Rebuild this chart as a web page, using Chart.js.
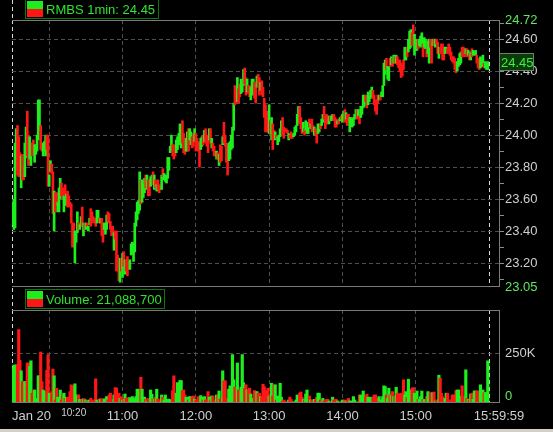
<!DOCTYPE html>
<html>
<head>
<meta charset="utf-8">
<script src="https://cdn.jsdelivr.net/npm/chart.js@4.4.0/dist/chart.umd.min.js"></script>
<style>
  html, body { margin: 0; padding: 0; background: #000; width: 553px; height: 432px; overflow: hidden; }
  #price { position: absolute; left: 0; top: 0; }
  #volume { position: absolute; left: 0; top: 288px; }
  #frame { position: absolute; left: 0; top: 429px; width: 553px; height: 3px; background: #d4d0c8; }
</style>
</head>
<body>
<canvas id="price" width="553" height="300"></canvas>
<canvas id="volume" width="553" height="141"></canvas>
<div id="frame"></div>
<script>
// RMBS 1-minute bars, Jan 20, 9:30 -> 16:00 (one entry per minute)
const lows = [
  23.44,23.41,23.42,23.78,23.75,23.74,23.76,23.67,23.72,23.72,23.74,23.86,23.87,23.81,23.85,23.81,23.87,23.88,23.83,23.88,23.90,23.97,24.03,23.91,23.90,23.87,23.90,23.87,23.91,23.68,
  23.68,23.77,23.76,23.51,23.40,23.52,23.56,23.52,23.52,23.60,23.62,23.60,23.52,23.62,23.56,23.55,23.55,23.56,23.45,23.30,
  23.30,23.20,23.33,23.39,23.41,23.41,23.43,23.43,23.37,23.41,23.41,23.43,23.40,23.44,23.43,23.45,23.46,23.45,23.43,23.45,
  23.47,23.45,23.45,23.37,23.33,23.41,23.38,23.41,23.46,23.45,23.41,23.37,23.39,23.28,23.35,23.15,23.15,23.09,23.08,23.15,
  23.11,23.18,23.13,23.15,23.12,23.16,23.16,23.25,23.26,23.21,23.27,23.43,23.47,23.51,23.53,23.57,23.58,23.61,23.64,23.67,
  23.66,23.62,23.62,23.68,23.71,23.69,23.66,23.67,23.65,23.66,23.64,23.66,23.66,23.74,23.72,23.71,23.70,23.73,23.78,23.89,
  23.90,23.87,23.85,23.87,23.89,23.91,23.94,23.94,23.92,23.95,23.89,23.88,23.90,23.90,23.90,23.97,23.94,23.92,23.93,23.96,
  23.90,23.92,23.90,23.80,23.91,23.93,23.94,23.96,23.95,23.93,23.89,23.97,23.95,23.92,23.90,23.87,23.87,23.85,23.85,23.81,
  23.83,23.84,23.94,23.95,23.93,23.83,23.75,23.84,23.85,23.91,23.92,24.03,24.19,24.20,24.21,24.20,24.24,24.26,24.27,24.31,
  24.32,24.25,24.27,24.26,24.24,24.22,24.26,24.25,24.23,24.20,24.30,24.30,24.25,24.28,24.25,24.24,24.11,24.02,24.02,24.02,
  24.01,24.01,23.97,23.91,23.98,23.97,23.98,23.94,23.96,23.99,24.03,24.00,23.98,24.02,24.02,24.01,23.97,23.98,23.98,23.98,
  23.99,24.00,24.02,24.06,24.08,24.07,24.04,24.01,24.02,24.00,24.03,24.01,24.01,24.05,24.04,24.02,24.03,24.00,24.00,23.95,
  24.01,24.02,24.04,24.06,24.08,24.10,24.04,24.07,24.07,24.07,24.09,24.09,24.10,24.09,24.05,24.05,24.07,24.07,24.09,24.10,
  24.08,24.10,24.08,24.10,24.06,24.08,24.02,24.07,24.05,24.06,24.10,24.11,24.10,24.12,24.07,24.11,24.13,24.17,24.18,24.21,
  24.17,24.19,24.21,24.23,24.24,24.23,24.19,24.15,24.13,24.20,24.22,24.22,24.24,24.24,24.31,24.38,24.41,24.35,24.34,24.43,
  24.44,24.43,24.45,24.45,24.45,24.44,24.42,24.40,24.36,24.37,24.41,24.47,24.47,24.49,24.52,24.54,24.55,24.56,24.61,24.50,
  24.53,24.53,24.54,24.56,24.55,24.56,24.49,24.55,24.54,24.49,24.51,24.45,24.55,24.45,24.56,24.56,24.55,24.57,24.51,24.48,
  24.51,24.51,24.47,24.47,24.51,24.52,24.51,24.52,24.50,24.47,24.46,24.45,24.41,24.39,24.40,24.43,24.44,24.45,24.49,24.50,
  24.49,24.51,24.49,24.50,24.47,24.47,24.49,24.50,24.50,24.50,24.45,24.42,24.41,24.42,24.43,24.43,24.42,24.42,24.41,24.41
];
const highs = [
  23.58,23.60,23.95,24.04,24.06,23.99,23.89,23.87,23.88,23.80,23.95,24.05,24.15,24.00,23.99,23.95,23.95,23.97,23.94,23.94,24.00,24.22,24.22,24.06,23.95,23.95,23.96,24.00,24.00,24.00,
  23.75,23.84,23.82,23.77,23.65,23.64,23.64,23.58,23.67,23.73,23.70,23.67,23.62,23.69,23.63,23.65,23.62,23.58,23.57,23.45,
  23.45,23.40,23.40,23.52,23.45,23.44,23.49,23.55,23.45,23.45,23.45,23.45,23.43,23.48,23.54,23.52,23.49,23.48,23.47,23.53,
  23.53,23.48,23.48,23.48,23.45,23.45,23.45,23.50,23.52,23.51,23.46,23.43,23.43,23.39,23.40,23.40,23.25,23.22,23.23,23.23,
  23.26,23.27,23.22,23.22,23.24,23.21,23.22,23.32,23.33,23.32,23.45,23.52,23.58,23.59,23.77,23.72,23.72,23.69,23.73,23.75,
  23.75,23.72,23.72,23.74,23.75,23.77,23.75,23.72,23.69,23.72,23.69,23.68,23.75,23.79,23.76,23.75,23.75,23.86,23.86,23.93,
  24.00,23.94,23.94,23.91,23.97,23.99,24.01,24.07,24.03,24.09,24.01,23.97,23.98,24.02,24.04,24.04,24.02,23.99,24.01,24.04,
  24.01,23.98,23.96,23.95,23.98,23.99,24.00,24.03,24.04,24.00,23.98,24.04,24.04,23.98,23.95,23.93,23.90,23.90,23.89,23.88,
  23.94,23.93,23.99,24.08,24.00,23.95,23.93,23.95,23.96,24.00,24.05,24.20,24.31,24.30,24.36,24.29,24.32,24.35,24.31,24.41,
  24.42,24.36,24.35,24.31,24.31,24.30,24.35,24.35,24.33,24.31,24.37,24.38,24.36,24.33,24.34,24.30,24.23,24.19,24.15,24.09,
  24.19,24.09,24.11,24.07,24.03,24.02,24.00,23.99,24.00,24.04,24.09,24.11,24.05,24.04,24.04,24.03,24.01,24.00,24.02,24.00,
  24.01,24.05,24.06,24.13,24.18,24.18,24.11,24.08,24.08,24.04,24.09,24.08,24.08,24.10,24.07,24.10,24.06,24.05,24.04,24.02,
  24.07,24.07,24.07,24.10,24.13,24.18,24.12,24.13,24.10,24.12,24.12,24.12,24.13,24.13,24.11,24.10,24.09,24.10,24.11,24.12,
  24.13,24.15,24.16,24.14,24.13,24.13,24.11,24.11,24.10,24.11,24.13,24.16,24.16,24.16,24.12,24.18,24.18,24.25,24.25,24.25,
  24.23,24.27,24.24,24.28,24.30,24.28,24.25,24.22,24.22,24.25,24.25,24.25,24.27,24.31,24.45,24.47,24.48,24.43,24.43,24.48,
  24.49,24.48,24.50,24.49,24.50,24.49,24.47,24.47,24.45,24.44,24.47,24.55,24.54,24.55,24.60,24.65,24.66,24.64,24.69,24.63,
  24.60,24.57,24.60,24.60,24.62,24.64,24.57,24.61,24.60,24.54,24.59,24.60,24.60,24.58,24.60,24.60,24.60,24.60,24.58,24.55,
  24.55,24.57,24.57,24.55,24.55,24.55,24.54,24.57,24.55,24.52,24.49,24.49,24.48,24.43,24.46,24.48,24.51,24.52,24.55,24.55,
  24.54,24.54,24.54,24.53,24.51,24.52,24.54,24.53,24.52,24.53,24.50,24.48,24.47,24.49,24.48,24.50,24.45,24.46,24.45,24.46
];
// 1 = close above open (green), 0 = close below open (red)
const upBars = [
  1,1,1,1,0,0,0,1,0,0,1,1,0,0,1,1,0,0,1,1,1,1,1,0,0,1,1,1,0,0,
  1,1,0,0,1,0,0,1,1,1,0,0,1,0,1,0,0,0,0,0,
  0,1,1,1,0,1,1,0,1,0,1,0,1,1,0,0,0,0,0,1,
  1,0,1,0,0,1,1,1,0,0,0,0,0,1,0,0,0,0,1,0,
  1,0,1,0,0,0,1,1,1,1,1,1,1,1,1,0,1,1,1,0,
  1,0,0,1,1,0,1,0,1,0,0,0,1,0,1,1,1,1,1,1,
  1,0,0,0,1,1,1,1,1,0,0,0,1,1,0,1,1,0,0,1,
  0,0,0,0,1,1,0,1,0,0,0,1,0,1,0,0,0,1,0,1,
  0,0,1,0,0,0,0,1,1,1,1,1,0,0,1,0,0,1,1,1,
  0,0,1,0,0,1,1,1,0,0,1,0,0,1,0,0,0,0,0,0,
  1,0,1,0,0,1,0,1,1,1,1,0,0,0,0,0,1,0,0,0,
  1,1,1,1,1,0,0,0,1,0,1,1,1,0,1,0,0,1,0,0,
  1,1,0,1,1,0,0,0,0,1,0,1,1,0,0,0,1,0,1,0,
  1,1,0,1,0,0,1,1,1,1,1,1,0,1,0,1,1,1,1,0,
  0,1,1,1,1,0,0,0,0,0,1,0,1,1,1,1,0,1,1,0,
  1,0,1,0,1,0,0,0,0,0,0,1,1,0,1,1,1,0,0,1,
  1,1,0,1,1,1,0,1,1,0,1,1,0,0,1,0,1,0,0,1,
  0,0,0,0,1,1,0,0,0,0,0,0,0,0,1,1,1,1,0,0,
  0,1,0,1,0,1,0,1,1,1,0,0,0,1,1,1,0,1,1,1
];
// volume per minute, thousands of shares
const volumeK = [
  168,190,175,191,191,367,213,161,107,107,107,107,200,200,183,211,49,65,65,23,23,136,136,255,107,65,57,57,163,242,
  49,49,57,170,136,15,74,29,29,65,15,40,49,23,29,29,15,57,91,86,40,96,15,40,40,18,15,20,20,20,
  15,10,10,15,23,15,10,15,121,15,10,20,20,20,20,20,20,32,15,40,49,15,18,40,77,74,15,49,23,32,
  15,20,45,23,27,23,27,15,32,15,23,32,69,69,15,129,69,29,29,18,10,23,10,65,44,20,20,29,69,20,
  15,15,40,29,15,40,18,15,20,15,15,62,136,18,49,102,32,112,112,62,65,40,29,29,15,32,32,32,35,20,
  15,15,32,15,37,29,15,32,15,15,57,29,15,35,35,10,15,40,40,60,20,23,161,111,111,15,23,69,86,79,
  242,116,79,79,200,65,55,79,242,102,74,91,65,65,74,45,23,23,62,57,57,49,49,32,32,94,82,62,32,74,
  35,35,99,35,91,91,15,35,15,99,29,10,15,10,5,5,15,29,18,5,5,5,15,40,5,49,55,29,18,15,
  45,65,23,35,15,15,5,18,15,29,49,49,15,5,23,10,10,18,18,10,5,5,29,15,18,18,10,5,5,5,
  15,10,15,10,15,23,10,10,5,32,15,5,5,5,40,40,15,60,32,32,44,29,29,10,29,29,40,40,15,23,
  32,7,15,32,86,82,40,23,74,40,40,57,32,32,79,49,40,45,49,18,116,40,57,27,119,60,65,74,77,49,
  29,60,18,18,32,60,18,18,18,32,57,49,52,15,52,55,10,15,15,139,124,49,32,15,23,49,49,15,15,15,
  40,40,40,62,65,65,23,35,86,32,32,166,23,18,15,45,49,18,60,60,60,60,52,91,52,65,52,52,52,211
];

const symbolTitle = 'RMBS 1min';
const lastPrice = 24.45;
const totalVolume = '21,088,700';
const priceRange = [23.05, 24.72];
const priceLabels = [24.60, 24.40, 24.20, 24.00, 23.80, 23.60, 23.40, 23.20];
const priceMinor = [24.70, 24.50, 24.30, 24.10, 23.90, 23.70, 23.50, 23.30, 23.10];
const volumeMax = 465000;
const volumeTicks = [0, 250000];
const hourMarks = [0, 30, 90, 150, 210, 270, 330, 390];   // minutes after 9:30
const dayEdges = [0, 390];
const timeLabels = ['Jan 20', '10:20', '11:00', '12:00', '13:00', '14:00', '15:00', '15:59:59'];
const timeLabelMinutes = [0, 50, 90, 150, 210, 270, 330, 390];

const GREEN = '#1cf01c';
const RED = '#ff1616';
const LIME = '#5ee85e';
const TEXT = '#cfcfcf';
const GRID = '#4e4e4e';
const FRAME = '#7a7a7a';
const FONT = '"Liberation Sans", Arial, sans-serif';

const barColors = upBars.map(u => u ? GREEN : RED);

function timeAxis() {
  return {
    type: 'linear', min: -0.5, max: 399, offset: false,
    afterBuildTicks: s => { s.ticks = hourMarks.map(v => ({ value: v })); },
    afterFit: s => { s.height = 0; },
    ticks: { display: false },
    grid: {
      offset: false, drawTicks: false, lineWidth: 1,
      color: c => dayEdges.includes(c.tick.value) ? '#d8d8d8' : GRID
    },
    border: { display: false, dash: [4, 3] }
  };
}

function drawLegend(ctx, x, y, w, h, text) {
  ctx.save();
  ctx.fillStyle = '#000';
  ctx.fillRect(x, y, w, h);
  ctx.strokeStyle = '#0b760b';
  ctx.lineWidth = 1;
  ctx.strokeRect(x + 0.5, y + 0.5, w - 1, h - 1);
  ctx.fillStyle = GREEN;
  ctx.fillRect(x + 2, y + 2, 16, 8);
  ctx.fillStyle = RED;
  ctx.fillRect(x + 2, y + 10, 16, 8);
  ctx.fillStyle = '#2fe42f';
  ctx.font = '13px ' + FONT;
  ctx.textBaseline = 'middle';
  ctx.textAlign = 'left';
  ctx.fillText(text, x + 21, y + h / 2 + 1);
  ctx.restore();
}

function drawFrame(ctx, a) {
  ctx.save();
  ctx.strokeStyle = FRAME;
  ctx.lineWidth = 1;
  ctx.beginPath();
  ctx.moveTo(a.left, a.top + 0.5); ctx.lineTo(a.right, a.top + 0.5);
  ctx.moveTo(a.left, a.bottom - 0.5); ctx.lineTo(a.right, a.bottom - 0.5);
  ctx.moveTo(a.right - 0.5, a.top); ctx.lineTo(a.right - 0.5, a.bottom);
  ctx.stroke();
  ctx.restore();
}

function drawSessionStart(ctx, scale, top) {
  const x = Math.round(scale.getPixelForValue(0) - 0.5) + 0.5;
  ctx.save();
  ctx.strokeStyle = '#d8d8d8';
  ctx.setLineDash([4, 3]);
  ctx.beginPath();
  ctx.moveTo(x, 0); ctx.lineTo(x, top);
  ctx.stroke();
  ctx.restore();
}

const priceOverlay = {
  id: 'priceOverlay',
  afterDraw(chart) {
    const { ctx, chartArea: a, scales } = chart;
    drawFrame(ctx, a);
    drawSessionStart(ctx, scales.x, a.top);
    drawLegend(ctx, 25, -1, 134, 20, symbolTitle + ': ' + lastPrice.toFixed(2));
    // last price tag on the axis
    const py = Math.round(scales.y.getPixelForValue(lastPrice));
    ctx.save();
    ctx.fillStyle = '#0a3c0a';
    ctx.fillRect(499, py - 10, 35, 18);
    ctx.strokeStyle = '#6f7f6f';
    ctx.strokeRect(499.5, py - 9.5, 34, 17);
    ctx.fillStyle = '#3ef03e';
    ctx.font = '13px ' + FONT;
    ctx.textBaseline = 'middle';
    ctx.fillText(lastPrice.toFixed(2), 501, py);
    ctx.restore();
  }
};

const volumeOverlay = {
  id: 'volumeOverlay',
  afterDraw(chart) {
    const { ctx, chartArea: a, scales } = chart;
    drawFrame(ctx, a);
    drawSessionStart(ctx, scales.x, a.top);
    drawLegend(ctx, 25, 1, 140, 20, 'Volume: ' + totalVolume);
    ctx.save();
    ctx.font = '13px ' + FONT;
    ctx.textBaseline = 'middle';
    ctx.fillStyle = LIME;
    ctx.fillText('0', 505, a.bottom - 7);
    ctx.fillStyle = TEXT;
    timeLabels.forEach((t, i) => {
      const px = scales.x.getPixelForValue(timeLabelMinutes[i]);
      if (i === 0) {
        ctx.textAlign = 'left';
        ctx.font = '13px ' + FONT;
        ctx.fillText(t, 12, a.bottom + 13);
      } else if (t === '10:20') {
        ctx.textAlign = 'center';
        ctx.font = '10px ' + FONT;
        ctx.fillText(t, px, a.bottom + 10);
      } else if (i === timeLabels.length - 1) {
        ctx.textAlign = 'center';
        ctx.font = '13px ' + FONT;
        ctx.fillText(t, px + 10, a.bottom + 13);
      } else {
        ctx.textAlign = 'center';
        ctx.font = '13px ' + FONT;
        ctx.fillText(t, px, a.bottom + 13);
      }
    });
    ctx.restore();
  }
};

new Chart(document.getElementById('price'), {
  type: 'bar',
  data: {
    datasets: [{
      data: lows.map((lo, i) => ({ x: i, y: [lo, highs[i]] })),
      backgroundColor: barColors,
      borderWidth: 0,
      barThickness: 2
    }]
  },
  options: {
    responsive: false,
    animation: false,
    events: [],
    layout: { padding: { left: 12, top: 20, bottom: 13, right: 0 } },
    plugins: { legend: { display: false }, tooltip: { enabled: false } },
    scales: {
      x: timeAxis(),
      y: {
        position: 'right', min: priceRange[0], max: priceRange[1], beginAtZero: false,
        afterBuildTicks: s => {
          s.ticks = [priceRange[0], ...priceMinor, ...priceLabels, priceRange[1]]
            .sort((p, q) => p - q).map(v => ({ value: v }));
        },
        afterFit: s => { s.width = 53; },
        ticks: {
          autoSkip: false, padding: 1,
          font: { family: FONT, size: 13 },
          color: c => priceRange.includes(c.tick.value) ? LIME : TEXT,
          callback: v => (priceLabels.includes(v) || priceRange.includes(v)) ? v.toFixed(2) : ''
        },
        grid: {
          lineWidth: 1, tickLength: 4,
          color: c => priceLabels.includes(c.tick.value) ? GRID : 'transparent',
          tickColor: c => priceRange.includes(c.tick.value) ? 'transparent' : '#8c8c8c'
        },
        border: { display: false, dash: [4, 3] }
      }
    }
  },
  plugins: [priceOverlay]
});

new Chart(document.getElementById('volume'), {
  type: 'bar',
  data: {
    datasets: [{
      data: volumeK.map((v, i) => ({ x: i, y: v * 1000 })),
      backgroundColor: barColors,
      borderWidth: 0,
      barThickness: 2.5
    }]
  },
  options: {
    responsive: false,
    animation: false,
    events: [],
    layout: { padding: { left: 12, top: 22, bottom: 26, right: 0 } },
    plugins: { legend: { display: false }, tooltip: { enabled: false } },
    scales: {
      x: timeAxis(),
      y: {
        position: 'right', min: 0, max: volumeMax,
        afterBuildTicks: s => { s.ticks = volumeTicks.map(v => ({ value: v })); },
        afterFit: s => { s.width = 53; },
        ticks: {
          autoSkip: false, padding: 5, color: TEXT,
          font: { family: FONT, size: 13 },
          callback: v => v === 0 ? '' : (v / 1000) + 'K'
        },
        grid: {
          lineWidth: 1, drawTicks: false,
          color: c => c.tick.value === 0 ? 'transparent' : GRID
        },
        border: { display: false, dash: [4, 3] }
      }
    }
  },
  plugins: [volumeOverlay]
});
</script>
</body>
</html>
